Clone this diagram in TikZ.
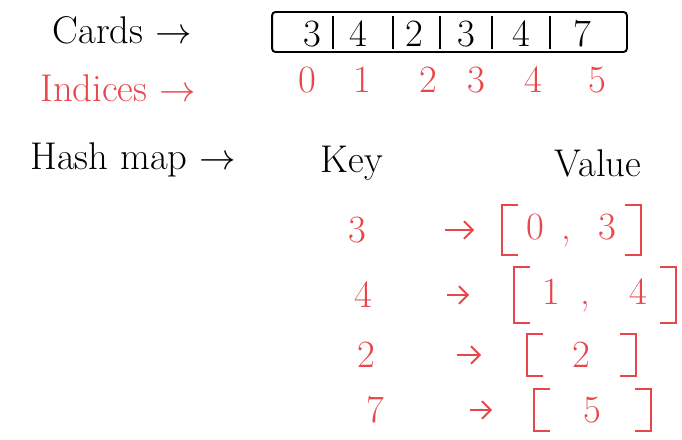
\documentclass[tikz,border=0pt]{standalone}
\usepackage{amsmath, amssymb, tikz}
\usetikzlibrary{arrows.meta}
\definecolor{pen}{HTML}{E8464A}

\begin{document}
\begin{tikzpicture}[x=0.02cm, y=-0.02cm, line width=1.1pt,
        >={Straight Barb[length=5pt,width=10pt]},
        every node/.style={font=\fontsize{22}{26}\selectfont}]
        \useasboundingbox (0,0) rectangle (682,439);
        % cards row
        \node (cards) at (122,30) {Cards $\rightarrow$};
        \node[draw, rounded corners=2pt, minimum width=7.1cm, minimum height=0.8cm] (box) at (449.5,32) {};
        \foreach \x in {333,393,440,492,550}
            \draw (\x,16) -- (\x,49);
        \foreach \x/\d [count=\i from 0] in {312/3,358/4,414/2,466/3,521/4,582/7}
            \node (card\i) at (\x,34) {\d};
        % indices row
        \node[pen] (indices) at (118,88) {Indices $\rightarrow$};
        \foreach \x [count=\i from 0] in {307,362,428,476,533,597}
            \node[pen] (idx\i) at (\x,80) {\i};
        % hash map
        \node (hash) at (133,160) {Hash map $\rightarrow$};
        \node (key) at (352,163) {Key};
        \node (value) at (598,163) {Value};
        \node[pen] (k3) at (357,230) {3};
        \node[pen] (k4) at (363,295) {4};
        \node[pen] (k2) at (366,355) {2};
        \node[pen] (k7) at (375,410) {7};
        \node[pen, minimum width=2.74cm, minimum height=0.98cm] (v3) at (571.5,230) {0\hspace{0.35cm},\hspace{0.55cm}3};
        \node[pen, minimum width=3.2cm, minimum height=1.08cm] (v4) at (595,295) {1\hspace{0.4cm},\hspace{0.8cm}4};
        \node[pen, minimum width=2.14cm, minimum height=0.8cm] (v2) at (581.5,355) {2};
        \node[pen, minimum width=2.3cm, minimum height=0.8cm] (v7) at (592.5,410) {5};
        \draw[->, pen] ([xshift=1.44cm]k3.east) -- ([xshift=-0.56cm]v3.west);
        \draw[->, pen] ([xshift=1.36cm]k4.east) -- ([xshift=-0.9cm]v4.west);
        \draw[->, pen] ([xshift=1.5cm]k2.east) -- ([xshift=-0.92cm]v2.west);
        \draw[->, pen] ([xshift=1.58cm]k7.east) -- ([xshift=-0.84cm]v7.west);
        \foreach \v in {v3,v4,v2,v7} {
            \draw[pen] ([xshift=9pt]\v.north west) -| (\v.south west) -- ++(9pt,0);
            \draw[pen] ([xshift=-9pt]\v.north east) -| (\v.south east) -- ++(-9pt,0);
        }
    \end{tikzpicture}
\end{document}
